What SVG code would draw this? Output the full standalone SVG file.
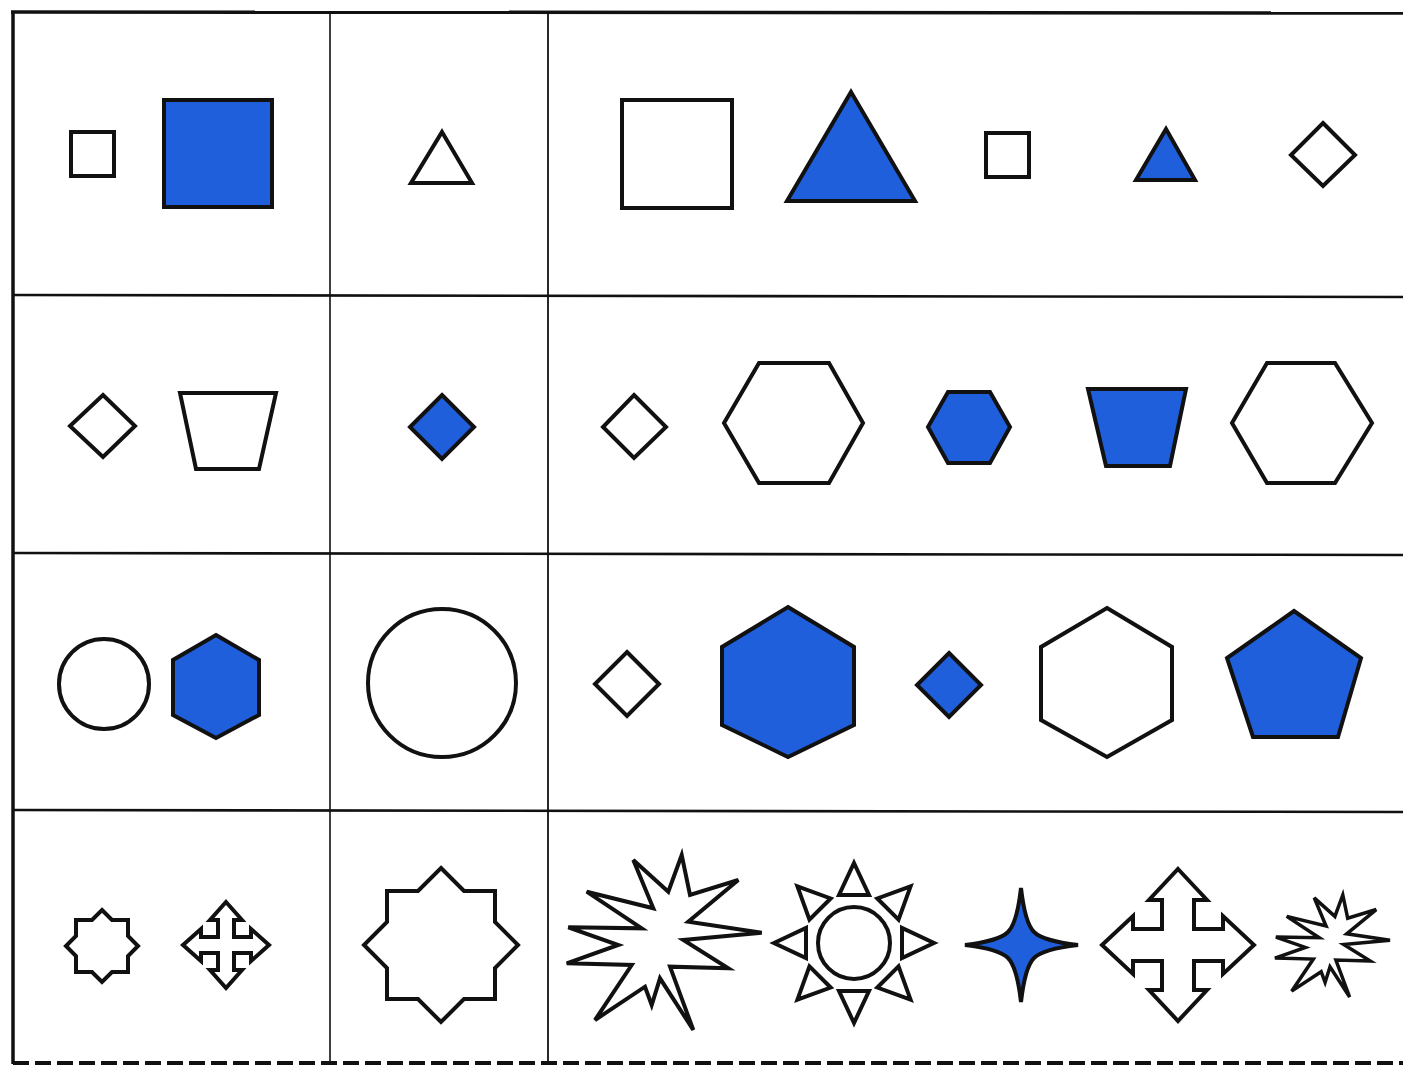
<svg xmlns="http://www.w3.org/2000/svg" xmlns:xlink="http://www.w3.org/1999/xlink" width="1403" height="1066" viewBox="0 0 1403 1066">
<style>
.sh{fill:#ffffff;stroke:#111111;stroke-width:4;stroke-linejoin:miter}
.bl{fill:#1f5fdb;stroke:#111111;stroke-width:4;stroke-linejoin:miter}
.grid{stroke:#111111;fill:none}
</style>
<defs>
<polygon id="ray" points="0,-80 15,-48 -15,-48" class="sh"/>
</defs>
<rect x="0" y="0" width="1403" height="1066" fill="#ffffff"/>
<g id="grid">
<line class="grid" x1="11" y1="12" x2="1403" y2="13" stroke-width="3.5"/>
<line class="grid" x1="13" y1="11" x2="13" y2="1064" stroke-width="3.5"/>
<line class="grid" x1="330" y1="12" x2="330" y2="1062" stroke-width="1.6"/>
<line class="grid" x1="548" y1="12" x2="548" y2="1062" stroke-width="1.8"/>
<line class="grid" x1="13" y1="295" x2="1403" y2="297" stroke-width="2.6"/>
<line class="grid" x1="13" y1="553" x2="1403" y2="555" stroke-width="2.6"/>
<line class="grid" x1="13" y1="810" x2="1403" y2="812" stroke-width="2.6"/>
<line class="grid" x1="13" y1="1063" x2="1403" y2="1063" stroke-width="4" stroke-dasharray="16 6"/>
</g>
<g id="row1">
<rect class="sh" x="71" y="132" width="43" height="44"/>
<rect class="bl" x="164" y="100" width="108" height="107"/>
<polygon class="sh" points="442,132 472,183 411,183"/>
<rect class="sh" x="622" y="100" width="110" height="108"/>
<polygon class="bl" points="851,92 915,201 787,201"/>
<rect class="sh" x="986" y="133" width="43" height="44"/>
<polygon class="bl" points="1166,129 1195,180 1136,180"/>
<polygon class="sh" points="1323,123 1355,155 1323,186 1291,155"/>
</g>
<g id="row2">
<polygon class="sh" points="103,395 135,426 103,457 70,426"/>
<polygon class="sh" points="180,393 276,393 259,469 196,469"/>
<polygon class="bl" points="442,395 474,427 442,459 410,427"/>
<polygon class="sh" points="634,395 666,427 634,458 603,427"/>
<polygon class="sh" points="759,363 829,363 863,423 829,483 759,483 724,423"/>
<polygon class="bl" points="948,392 990,392 1010,427 990,463 948,463 928,427"/>
<polygon class="bl" points="1088,389 1186,389 1170,466 1106,466"/>
<polygon class="sh" points="1267,363 1335,363 1372,423 1335,483 1267,483 1232,423"/>
</g>
<g id="row3">
<circle class="sh" cx="104" cy="684" r="45"/>
<polygon class="bl" points="216,635 259,660 259,715 216,738 173,715 173,660"/>
<circle class="sh" cx="442" cy="683" r="74"/>
<polygon class="sh" points="627,652 659,684 627,716 595,684"/>
<polygon class="bl" points="788,607 854,647 854,725 788,757 722,725 722,647"/>
<polygon class="bl" points="949,653 981,685 949,717 917,685"/>
<polygon class="sh" points="1107,608 1172,647 1172,720 1107,757 1041,720 1041,647"/>
<polygon class="bl" points="1294,611 1361,658 1338,737 1253,737 1227,658"/>
</g>
<g id="row4">
<polygon class="sh" points="102,910 112,920 128,920 128,936 138,946 128,956 128,972 112,972 102,982 92,972 76,972 76,956 66,946 76,936 76,920 92,920"/>
<polygon class="sh" points="226,902 242,920 234,920 234,937 251,937 251,929 269,945 251,961 251,953 234,953 234,970 242,970 226,988 210,970 218,970 218,953 201,953 201,961 183,945 201,929 201,937 218,937 218,920 210,920"/>
<polygon class="sh" points="441,868 464,891 495,891 495,922 518,945 495,968 495,999 464,999 441,1022 418,999 387,999 387,968 364,945 387,922 387,891 418,891"/>
<path class="sh" d="M728.3,968.3 L670,966.7 L693.3,1030 L660,978.3 L651.7,1005 L645,986.7 L595,1020 L631.7,965 L566.7,963.3 L618.3,945 L568.3,927.3 L641.7,928.3 L586.7,891.7 L653.3,908.3 L633.3,860 L668.3,891.7 L681.7,855 L690,895 L738.3,880 L688.3,921.7 L761.7,932.7 L683.3,940 Z"/>
<g id="sun" transform="translate(854,943)">
<circle class="sh" cx="0" cy="0" r="36"/>
<use xlink:href="#ray" href="#ray"/>
<use xlink:href="#ray" href="#ray" transform="rotate(45)"/>
<use xlink:href="#ray" href="#ray" transform="rotate(90)"/>
<use xlink:href="#ray" href="#ray" transform="rotate(135)"/>
<use xlink:href="#ray" href="#ray" transform="rotate(180)"/>
<use xlink:href="#ray" href="#ray" transform="rotate(225)"/>
<use xlink:href="#ray" href="#ray" transform="rotate(270)"/>
<use xlink:href="#ray" href="#ray" transform="rotate(315)"/>
</g>
<path class="bl" transform="translate(1021,945)" d="M0,-57 Q4,-22 13,-13 Q22,-4 57,0 Q22,4 13,13 Q4,22 0,57 Q-4,22 -13,13 Q-22,4 -56,0 Q-22,-4 -13,-13 Q-4,-22 0,-57 Z"/>
<polygon class="sh" points="1178,869 1207,900 1194,900 1194,929 1223,929 1223,916 1254,945 1223,974 1223,961 1194,961 1194,990 1207,990 1178,1021 1149,990 1162,990 1162,961 1133,961 1133,974 1102,945 1133,916 1133,929 1162,929 1162,900 1149,900"/>
<path class="sh" transform="matrix(0.59,0,0,0.583,940.6,396.5)" vector-effect="non-scaling-stroke" style="stroke-width:3.5" d="M728.3,968.3 L670,966.7 L693.3,1030 L660,978.3 L651.7,1005 L645,986.7 L595,1020 L631.7,965 L566.7,963.3 L618.3,945 L568.3,927.3 L641.7,928.3 L586.7,891.7 L653.3,908.3 L633.3,860 L668.3,891.7 L681.7,855 L690,895 L738.3,880 L688.3,921.7 L761.7,932.7 L683.3,940 Z"/>
</g>
</svg>
